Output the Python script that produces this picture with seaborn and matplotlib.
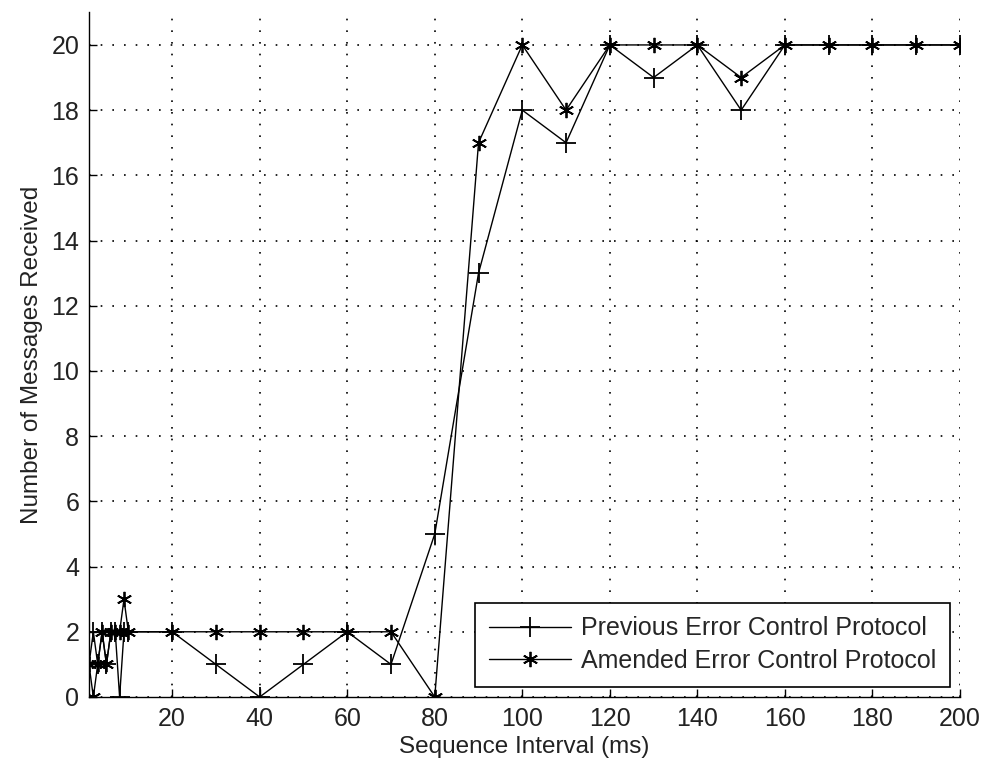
import matplotlib
matplotlib.use("Agg")
import matplotlib.pyplot as plt
import seaborn as sns
import pandas as pd

x_values = [1, 2, 3, 4, 5, 6, 7, 8, 9, 10,
            20, 30, 40, 50, 60, 70, 80, 90, 100, 110,
            120, 130, 140, 150, 160, 170, 180, 190, 200]
previous = [1, 2, 1, 2, 1, 2, 2, 0, 2, 2,
            2, 1, 0, 1, 2, 1, 5, 13, 18, 17,
            20, 19, 20, 18, 20, 20, 20, 20, 20]
amended = [1, 0, 1, 2, 1, 2, 2, 2, 3, 2,
           2, 2, 2, 2, 2, 2, 0, 17, 20, 18,
           20, 20, 20, 19, 20, 20, 20, 20, 20]
x_ticks = [20, 40, 60, 80, 100, 120, 140, 160, 180, 200]
y_ticks = [0, 2, 4, 6, 8, 10, 12, 14, 16, 18, 20]

sns.set_theme(style="white")
plt.rcParams['font.family'] = ['Liberation Sans', 'DejaVu Sans']

df = pd.DataFrame({"x": x_values, "previous": previous, "amended": amended})

fig = plt.figure(figsize=(9.82, 7.71), dpi=100)
ax = fig.add_axes([0.0906, 0.096, 0.887, 0.888])

sns.lineplot(data=df, x="x", y="previous", ax=ax, color="black", lw=1.0,
             marker="+", markersize=15, markeredgewidth=1.3, markeredgecolor="black",
             label="Previous Error Control Protocol")
sns.lineplot(data=df, x="x", y="amended", ax=ax, color="black", lw=1.0,
             marker=(6, 2, 0), markersize=11, markeredgewidth=1.3, markeredgecolor="black",
             label="Amended Error Control Protocol")

ax.set_xlim(1, 200)
ax.set_ylim(0, 21)
ax.set_xticks(x_ticks)
ax.set_yticks(y_ticks)
ax.grid(True, color="black", linestyle=(0, (1, 6)), linewidth=1.2)
for side in ["top", "right"]:
    ax.spines[side].set_visible(False)
for side in ["left", "bottom"]:
    ax.spines[side].set_color("black")
    ax.spines[side].set_linewidth(1.0)
ax.tick_params(axis="x", pad=7)
ax.tick_params(axis="y", pad=7)
ax.tick_params(direction="in", length=6, width=1, colors="black", labelsize=18,
               left=True, bottom=True)
for lab in ax.get_xticklabels() + ax.get_yticklabels():
    lab.set_color("#222222")
ax.set_xlabel("Sequence Interval (ms)", fontsize=17.5, color="#222222", labelpad=4)
ax.set_ylabel("Number of Messages Received", fontsize=17.5, color="#222222", labelpad=6)

leg = ax.legend(loc="lower right", fontsize=18, frameon=True, fancybox=False,
                edgecolor="black", framealpha=1, handlelength=3.3, handletextpad=0.4,
                borderaxespad=0.4, borderpad=0.55, labelspacing=0.35)
leg.get_frame().set_linewidth(1.2)

fig.savefig("out.png", dpi=100, facecolor="white")
